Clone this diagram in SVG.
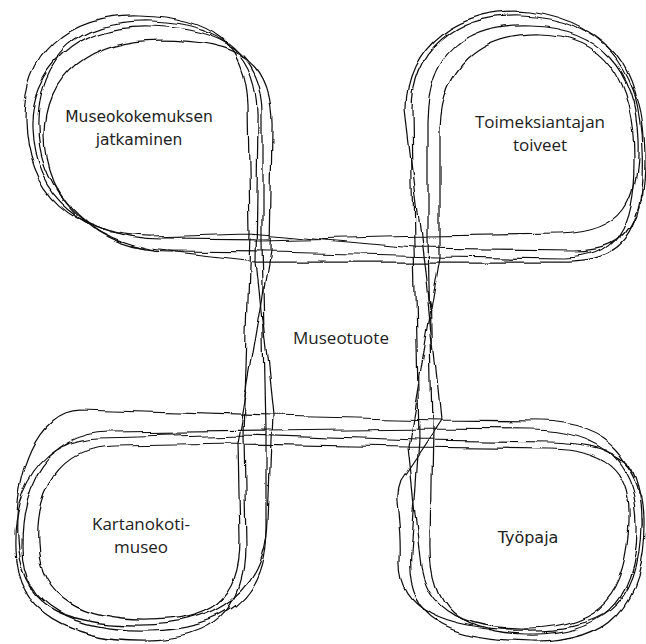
<svg xmlns="http://www.w3.org/2000/svg" width="646" height="644" viewBox="0 0 646 644">
<style>
.s{fill:none;stroke:#111;stroke-width:1.25;stroke-linejoin:round;stroke-linecap:round}
.a{font-family:"Open Sans","Liberation Sans",sans-serif;font-size:17px;fill:#222;text-anchor:middle}
.b{font-family:"DejaVu Sans","Liberation Sans",sans-serif;font-size:15.5px;fill:#222;text-anchor:middle}
</style>
<defs>
<filter id="r1" x="-5%" y="-5%" width="110%" height="110%"><feTurbulence type="fractalNoise" baseFrequency="0.022" numOctaves="2" seed="3"/><feDisplacementMap in="SourceGraphic" scale="9" xChannelSelector="R" yChannelSelector="G"/></filter>
<filter id="r2" x="-5%" y="-5%" width="110%" height="110%"><feTurbulence type="fractalNoise" baseFrequency="0.02" numOctaves="2" seed="11"/><feDisplacementMap in="SourceGraphic" scale="10" xChannelSelector="R" yChannelSelector="G"/></filter>
<filter id="r3" x="-5%" y="-5%" width="110%" height="110%"><feTurbulence type="fractalNoise" baseFrequency="0.025" numOctaves="2" seed="27"/><feDisplacementMap in="SourceGraphic" scale="8" xChannelSelector="R" yChannelSelector="G"/></filter>
<filter id="r4" x="-5%" y="-5%" width="110%" height="110%"><feTurbulence type="fractalNoise" baseFrequency="0.02" numOctaves="2" seed="42"/><feDisplacementMap in="SourceGraphic" scale="9" xChannelSelector="R" yChannelSelector="G"/></filter>
</defs>
<rect width="646" height="644" fill="#fff"/>
<g id="connectors">
<path class="s" filter="url(#r1)" d="M262 240 L428 236 L560 234 C625 232 640 200 638 140 C636 70 600 28 530 26 C465 24 430 55 428 120 L428 236 L432 428 L430 540 C428 610 460 632 525 634 C600 636 636 605 637 530 C638 460 600 430 530 429 L432 428 L266 430 L110 432 C50 434 22 480 22 545 C22 610 80 632 150 630 C225 628 265 600 266 530 L266 430 L262 240 L262 115 C262 55 225 28 150 26 C75 24 30 70 32 130 C34 195 85 238 160 239 Z"/>
<path class="s" filter="url(#r2)" d="M250 233 L414 248 L575 250 C632 250 645 215 642 150 C640 70 610 18 520 15 C455 13 412 50 412 110 L414 248 L418 440 L410 555 C405 620 450 640 530 641 C610 642 645 605 644 520 C643 455 610 444 550 442 L418 440 L244 434 L100 438 C40 440 12 490 14 550 C16 615 70 640 145 640 C215 640 246 610 246 545 L244 434 L250 233 L248 105 C246 45 215 18 140 16 C65 14 24 55 25 120 C26 195 70 236 150 236 Z"/>
<path class="s" filter="url(#r3)" d="M270 252 L440 256 L565 258 C615 258 634 230 634 160 C634 80 605 35 540 34 C480 33 442 65 440 130 L440 256 L408 447 L420 560 C425 615 470 630 530 628 C600 626 628 595 630 520 C632 470 605 450 550 449 L408 447 L238 444 L115 446 C60 446 35 490 38 545 C40 600 85 620 145 620 C210 620 240 600 240 540 L238 444 L270 252 L272 130 C274 60 240 40 160 40 C90 40 45 75 45 135 C45 200 95 250 170 251 Z"/>
<path class="s" filter="url(#r4)" d="M256 262 L424 262 L570 262 C630 262 646 220 645 155 C644 80 615 25 530 12 C460 5 405 45 406 110 L424 262 L440 420 L400 480 C392 500 402 515 400 560 C398 610 445 628 520 630 C600 632 640 610 641 525 C642 460 610 422 540 421 L440 420 L272 416 L80 410 C40 410 15 470 18 540 C20 605 60 625 140 625 C220 625 266 590 268 520 L272 416 L256 262 L258 120 C260 60 230 25 150 22 C80 20 40 55 38 120 C36 180 75 235 150 250 Z"/>
</g>
<g id="museokokemus"><text class="b" x="139" y="122">Museokokemuksen</text><text class="b" x="139" y="145">jatkaminen</text></g>
<g id="toimeksiantaja"><text class="a" x="540" y="128">Toimeksiantajan</text><text class="a" x="540" y="151">toiveet</text></g>
<g id="museotuote"><text class="a" x="341" y="344">Museotuote</text></g>
<g id="kartanokotimuseo"><text class="a" x="141" y="530">Kartanokoti-</text><text class="a" x="141" y="553">museo</text></g>
<g id="tyopaja"><text class="b" x="528" y="543" style="font-size:16px">Työpaja</text></g>
</svg>
